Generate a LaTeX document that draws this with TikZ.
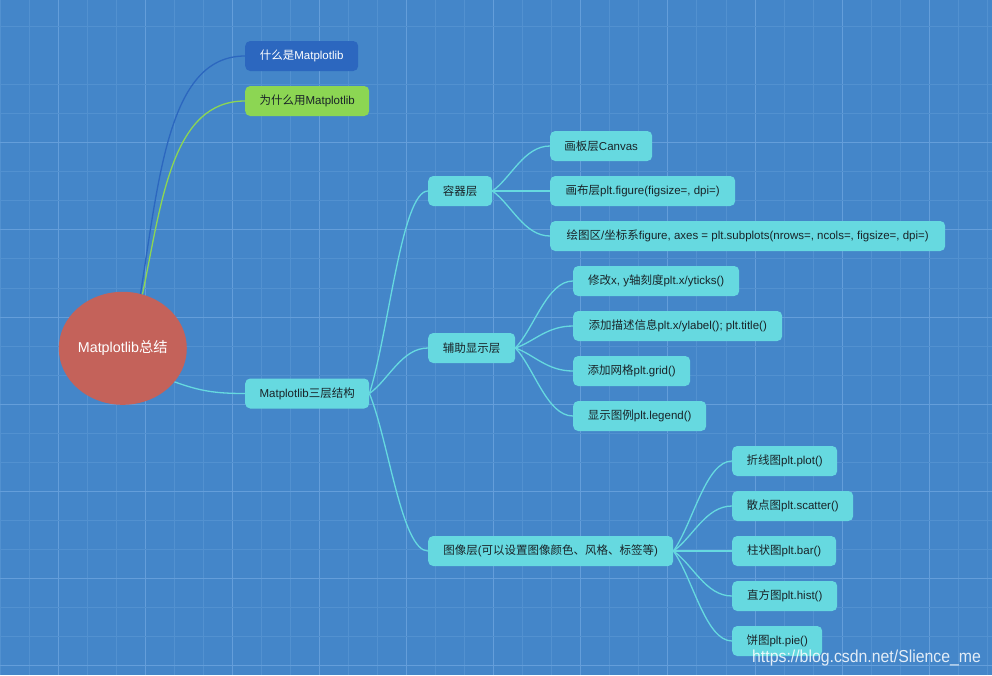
\documentclass[tikz,border=0pt]{standalone}
\usepackage{fontspec}
\setmainfont{Liberation Sans}
\newfontfamily\zhf{Noto Sans CJK SC}
\newcommand\zh[1]{{\zhf #1}}
\usetikzlibrary{calc,shapes.geometric}
\definecolor{bgblue}{RGB}{68,134,201}
\definecolor{gridminor}{RGB}{82,145,208}
\definecolor{gridmajor}{RGB}{100,158,218}
\definecolor{cyanbox}{RGB}{102,217,224}
\definecolor{darkbox}{RGB}{44,103,191}
\definecolor{greenbox}{RGB}{140,214,83}
\definecolor{rootred}{RGB}{196,98,90}
\definecolor{txtdark}{RGB}{25,35,40}
\tikzset{
  box/.style={rounded corners=5pt, minimum height=30pt, inner xsep=0pt, inner ysep=0pt,
    anchor=west, font=\fontsize{11.5}{13}\selectfont, text=txtdark},
  cbox/.style={box, fill=cyanbox},
  linkline/.style={line width=1.3pt, draw=cyanbox},
}
\newcommand\mmconn[2]{\draw[linkline] let \p1=(#1.east), \p2=(#2.west) in (\p1) .. controls ({\x1+0.33*(\x2-\x1)},{\y1+0.3*(\y2-\y1)}) and ({\x1+0.55*(\x2-\x1)},\y2) .. (\p2);}
\begin{document}
\begin{tikzpicture}[x=1pt,y=-1pt]
\useasboundingbox (0,0) rectangle (992,675);
\fill[bgblue] (0,0) rectangle (992,675);
% grid
\foreach \k in {-2,...,32}{
  \pgfmathsetmacro\xx{58.3+29.03*\k}
  \pgfmathtruncatemacro\mj{mod(\k,3)==0 ? 1 : 0}
  \ifnum\mj=1
    \draw[gridmajor, line width=1pt] (\xx,0) -- (\xx,675);
  \else
    \draw[gridminor, line width=1pt] (\xx,0) -- (\xx,675);
  \fi
}
\foreach \k in {-4,-2,-1,0,1,...,18}{
  \pgfmathsetmacro\yy{142.7+29.07*\k}
  \pgfmathtruncatemacro\mj{mod(\k,3)==0 ? 1 : 0}
  \ifnum\mj=1
    \draw[gridmajor, line width=1pt] (0,\yy) -- (992,\yy);
  \else
    \draw[gridminor, line width=1pt] (0,\yy) -- (992,\yy);
  \fi
}
% root
\node[ellipse, fill=rootred, minimum width=128pt, minimum height=113pt, inner sep=0pt,
  text=white, font=\fontsize{14.3}{16}\selectfont] (root) at (122.8,348.3) {Matplotlib\zh{总结}};
% first level
\node[box, fill=darkbox, text=white, minimum width=113pt] (n1) at (245,56) {\zh{什么是}Matplotlib};
\node[box, fill=greenbox, minimum width=124pt] (n2) at (245,101) {\zh{为什么用}Matplotlib};
\node[cbox, minimum width=124pt] (s) at (245,393.5) {Matplotlib\zh{三层结构}};
% second level
\node[cbox, minimum width=64pt] (c) at (428,191) {\zh{容器层}};
\node[cbox, minimum width=87pt] (a) at (428,348) {\zh{辅助显示层}};
\node[cbox, minimum width=245pt] (p) at (428,551) {\zh{图像层}(\zh{可以设置图像颜色、风格、标签等})};
% third level
\node[cbox, minimum width=102pt] (c1) at (550,146) {\zh{画板层}Canvas};
\node[cbox, minimum width=185pt] (c2) at (550,191) {\zh{画布层}plt.figure(figsize=, dpi=)};
\node[cbox, minimum width=395pt] (c3) at (550,236) {\zh{绘图区}/\zh{坐标系}figure, axes = plt.subplots(nrows=, ncols=, figsize=, dpi=)};
\node[cbox, minimum width=166pt] (a1) at (573,281) {\zh{修改}x, y\zh{轴刻度}plt.x/yticks()};
\node[cbox, minimum width=209pt] (a2) at (573,326) {\zh{添加描述信息}plt.x/ylabel(); plt.title()};
\node[cbox, minimum width=117pt] (a3) at (573,371) {\zh{添加网格}plt.grid()};
\node[cbox, minimum width=133pt] (a4) at (573,416) {\zh{显示图例}plt.legend()};
\node[cbox, minimum width=105pt] (p1) at (732,461) {\zh{折线图}plt.plot()};
\node[cbox, minimum width=121pt] (p2) at (732,506) {\zh{散点图}plt.scatter()};
\node[cbox, minimum width=104pt] (p3) at (732,551) {\zh{柱状图}plt.bar()};
\node[cbox, minimum width=105pt] (p4) at (732,596) {\zh{直方图}plt.hist()};
\node[cbox, minimum width=90pt] (p5) at (732,641) {\zh{饼图}plt.pie()};
% connectors from root
\coordinate (rb) at (root.72);
\coordinate (rg) at (root.70);
\coordinate (rs) at (root.-33);
\draw[line width=1.3pt, darkbox] (rb) .. controls (160,170) and (170,56) .. (n1.west);
\draw[line width=1.3pt, greenbox] (rg) .. controls (162,200) and (172,101) .. (n2.west);
\draw[linkline] (rs) .. controls (200,391) and (215,393.5) .. (s.west);
% tree connectors
\mmconn{s}{c}
\mmconn{s}{a}
\mmconn{s}{p}
\mmconn{c}{c1}
\mmconn{c}{c2}
\mmconn{c}{c3}
\mmconn{a}{a1}
\mmconn{a}{a2}
\mmconn{a}{a3}
\mmconn{a}{a4}
\mmconn{p}{p1}
\mmconn{p}{p2}
\mmconn{p}{p3}
\mmconn{p}{p4}
\mmconn{p}{p5}
% watermark
\node[anchor=base west, inner sep=0pt, text=white, text opacity=0.85, xscale=0.915, transform shape,
  font=\fontsize{17.3}{18}\selectfont] (wm) at (752,662) {https://blog.csdn.net/Slience\_me};
\end{tikzpicture}
\end{document}
